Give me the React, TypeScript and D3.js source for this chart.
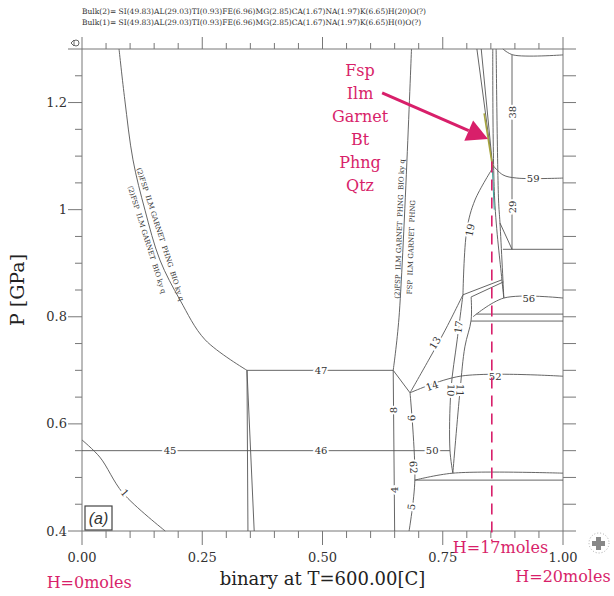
import React from 'react';
import * as d3 from 'd3';

const W = 614, H = 596;
const X_DOMAIN = [0, 1];
const P_DOMAIN = [0.4, 1.3];
const xTickValues = [0, 0.25, 0.5, 0.75, 1];
const xTickLabels = ["0.00", "0.25", "0.50", "0.75", "1.00"];
const yTickValues = [0.4, 0.6, 0.8, 1.0, 1.2];
const yTickLabels = ["0.4", "0.6", "0.8", "1", "1.2"];
const bulkTexts = [
  "Bulk(2)= SI(49.83)AL(29.03)TI(0.93)FE(6.96)MG(2.85)CA(1.67)NA(1.97)K(6.65)H(20)O(?)",
  "Bulk(1)= SI(49.83)AL(29.03)TI(0.93)FE(6.96)MG(2.85)CA(1.67)NA(1.97)K(6.65)H(0)O(?)",
];
const xTitle = "binary at T=600.00[C]";
const yTitle = "P [GPa]";

// phase boundaries [x, P]
const curveMain = [[0.077, 1.30], [0.089, 1.205], [0.106, 1.093], [0.131, 0.999], [0.162, 0.906], [0.204, 0.831], [0.256, 0.757], [0.343, 0.70]];
const boundary1 = [[0, 0.57], [0.037, 0.538], [0.085, 0.471], [0.173, 0.40]];
const wedgeLeft = [[0.343, 0.70], [0.345, 0.40]];
const wedgeRight = [[0.343, 0.70], [0.358, 0.40]];
const line45 = [[0, 0.55], [0.765, 0.55]];
const line47 = [[0.343, 0.70], [0.647, 0.70]];
const lineMid = [[0.685, 1.30], [0.659, 0.798], [0.647, 0.70]];
const line8 = [[0.647, 0.70], [0.650, 0.40]];
const lineV8V9 = [[0.647, 0.70], [0.682, 0.658]];
const line9 = [[0.682, 0.658], [0.692, 0.495], [0.680, 0.40]];
const line62h = [[0.692, 0.495], [1, 0.495]];
const line62b = [[0.692, 0.495], [0.771, 0.508], [1, 0.508]];
const line14 = [[0.682, 0.658], [0.786, 0.689], [1, 0.689]];
const line13 = [[0.682, 0.658], [0.723, 0.723], [0.755, 0.775], [0.792, 0.841]];
const line10 = [[0.792, 0.841], [0.780, 0.757], [0.767, 0.663], [0.765, 0.551], [0.771, 0.508]];
const line11 = [[0.809, 0.837], [0.809, 0.794], [0.796, 0.744], [0.786, 0.663], [0.771, 0.508]];
const line19 = [[0.792, 0.841], [0.800, 0.962], [0.817, 1.018], [0.854, 1.078]];
const lineUpPar = [[0.792, 0.841], [0.873, 0.869]];
const lineLowPar = [[0.809, 0.837], [0.876, 0.865]];
const lineC = [[0.854, 1.30], [0.858, 1.018], [0.873, 0.869], [0.877, 0.835]];
const lineD = [[0.861, 1.30], [0.866, 1.018], [0.869, 0.975], [0.877, 0.835]];
const line56 = [[0.813, 0.800], [0.877, 0.835], [1, 0.835]];
const lineH1 = [[0.82, 0.805], [1, 0.805]];
const lineH2 = [[0.809, 0.792], [1, 0.792]];
const lineBranch = [[0.869, 0.975], [0.894, 0.926]];
const line926 = [[0.875, 0.926], [1, 0.926]];
const line38 = [[0.894, 1.289], [0.894, 0.926]];
const lineTop = [[0.875, 1.30], [0.896, 1.289], [1, 1.289]];
const line59 = [[0.854, 1.083], [0.875, 1.065], [0.904, 1.059], [1, 1.059]];
const lineB = [[0.830, 1.30], [0.854, 1.078]];
const lineA = [[0.821, 1.30], [0.854, 1.078]];
const lineOlive = [[0.836, 1.18], [0.854, 1.078]];
const lineTeal = [[0.853, 1.08], [0.857, 1.0]];

const grayLines = [curveMain, boundary1, wedgeLeft, wedgeRight, line45, line47, lineMid, line8, lineV8V9, line9,
  line62h, line62b, line14, line13, line10, line11, line19, lineUpPar, lineLowPar, lineC, lineD, line56, lineH1, lineH2,
  lineBranch, line926, line38, lineTop, line59, lineB, lineA];

const lineLabels = [
  { t: "45", x: 0.183, p: 0.55, r: 0 },
  { t: "46", x: 0.497, p: 0.55, r: 0 },
  { t: "47", x: 0.497, p: 0.70, r: 0 },
  { t: "50", x: 0.728, p: 0.55, r: 0 },
  { t: "52", x: 0.859, p: 0.689, r: 0 },
  { t: "56", x: 0.929, p: 0.835, r: 0 },
  { t: "59", x: 0.938, p: 1.059, r: 0 },
  { t: "38", x: 0.894, p: 1.182, r: -90 },
  { t: "29", x: 0.894, p: 1.005, r: -90 },
  { t: "8", x: 0.648, p: 0.626, r: -90 },
  { t: "4", x: 0.649, p: 0.477, r: -90 },
  { t: "9", x: 0.685, p: 0.611, r: 87 },
  { t: "62", x: 0.689, p: 0.519, r: 87 },
  { t: "5", x: 0.685, p: 0.445, r: -82 },
  { t: "10", x: 0.767, p: 0.663, r: 92 },
  { t: "11", x: 0.786, p: 0.663, r: 92 },
  { t: "13", x: 0.734, p: 0.751, r: -58 },
  { t: "14", x: 0.728, p: 0.671, r: -19 },
  { t: "17", x: 0.783, p: 0.781, r: -82 },
  { t: "19", x: 0.807, p: 0.962, r: -78 },
  { t: "1", x: 0.089, p: 0.471, r: 49 },
];

const fieldLabels = [
  { t: "(2)FSP  ILM GARNET  PHNG  BIO ky q", x: 0.163, p: 0.954, r: 72 },
  { t: "(2)FSP  ILM GARNET  BIO ky q", x: 0.135, p: 0.944, r: 72.5 },
  { t: "(2)FSP  ILM GARNET  PHNG  BIO ky q", x: 0.660, p: 0.964, r: -88 },
  { t: "FSP  ILM GARNET  PHNG", x: 0.684, p: 0.930, r: -88 },
];

const assemblage = ["Fsp", "Ilm", "Garnet", "Bt", "Phng", "Qtz"];
const assemblageAnchor = { x: 0.578, p: 1.2495 };
const arrowFrom = { x: 0.624, p: 1.218 };
const arrowTo = { x: 0.844, p: 1.132 };
const dashedX = 0.852;
const dashedTopP = 1.09;
const hLabels = [
  { t: "H=0moles", x: 0.015, row: 2 },
  { t: "H=17moles", x: 0.87, row: 0 },
  { t: "H=20moles", x: 1.0, row: 1 },
];

const PINK = "#d81f6a";
const SERIF = "'DejaVu Serif', serif";

export default function App() {
  const x = d3.scaleLinear().domain(X_DOMAIN).range([82, 563]);
  const y = d3.scaleLinear().domain(P_DOMAIN).range([531, 49]);
  const line = d3.line<number[]>().x(d => x(d[0])).y(d => y(d[1])).curve(d3.curveCatmullRom.alpha(0.5));
  const xMinor = d3.range(0, 1.0001, 0.05);
  const yMinor = d3.range(0.4, 1.3001, 0.05);
  const isMajorX = (v: number) => Math.abs(v * 4 - Math.round(v * 4)) < 1e-6;
  const isMajorY = (v: number) => Math.abs(v * 5 - Math.round(v * 5)) < 1e-6 || Math.abs(v - 1.3) < 1e-6;

  const ax1 = x(arrowFrom.x), ay1 = y(arrowFrom.p), ax2 = x(arrowTo.x), ay2 = y(arrowTo.p);
  const ang = Math.atan2(ay2 - ay1, ax2 - ax1);
  const headL = 21, headW = 11;
  const bx = ax2 - headL * Math.cos(ang), by = ay2 - headL * Math.sin(ang);
  const head = [
    [ax2, ay2],
    [bx + headW * Math.sin(ang), by - headW * Math.cos(ang)],
    [bx - headW * Math.sin(ang), by + headW * Math.cos(ang)],
  ].map(p => p.join(",")).join(" ");

  const x0 = x(0), x1 = x(1), yb = y(0.4), yt = y(1.3);
  const hRowY = [553, 582, 588];

  return (
    <svg width={W} height={H} style={{ position: 'absolute', left: 0, top: 0, background: '#fff' }}>
      {bulkTexts.map((t, i) => (
        <text key={i} x={x0} y={14 + i * 11} fontSize={7.5} fontFamily={SERIF} fill="#333">{t}</text>
      ))}
      {/* frame */}
      <g stroke="#777" strokeWidth={1} fill="none">
        <line x1={x0} y1={yt} x2={x1} y2={yt} />
        <line x1={x0} y1={yb} x2={x1} y2={yb} />
        <line x1={x0} y1={yt} x2={x0} y2={yb} />
        <line x1={x1} y1={yt} x2={x1} y2={yb} />
        {xMinor.map((v, i) => (
          <g key={'xt' + i}>
            <line x1={x(v)} x2={x(v)} y1={yb} y2={yb + (isMajorX(v) ? 14 : 7)} />
            <line x1={x(v)} x2={x(v)} y1={yt} y2={yt - (isMajorX(v) ? 12 : 6)} />
          </g>
        ))}
        {yMinor.map((v, i) => (
          <g key={'yt' + i}>
            <line x1={x0} x2={x0 - (isMajorY(v) ? 14 : 7)} y1={y(v)} y2={y(v)} />
            <line x1={x1} x2={x1 + 13} y1={y(v)} y2={y(v)} />
          </g>
        ))}
      </g>
      {xTickValues.map((v, i) => (
        <text key={'xl' + i} x={x(v)} y={562} textAnchor="middle" fontSize={13} fontFamily={SERIF} fill="#333">{xTickLabels[i]}</text>
      ))}
      {yTickValues.map((v, i) => (
        <text key={'yl' + i} x={67} y={y(v)} dy="0.35em" textAnchor="end" fontSize={13} fontFamily={SERIF} fill="#333">{yTickLabels[i]}</text>
      ))}
      <text x={(x0 + x1) / 2} y={585} textAnchor="middle" fontSize={18} fontFamily={SERIF} fill="#222">{xTitle}</text>
      <text transform={`translate(24,${(yt + yb) / 2}) rotate(-90)`} textAnchor="middle" fontSize={19} fontFamily={SERIF} fill="#222">{yTitle}</text>

      {/* top-left icon */}
      <g stroke="#666" strokeWidth={1} fill="none">
        <circle cx={76} cy={43} r={3} />
        <path d={`M71,43 L74,40 L74,46 Z`} fill="#fff" />
      </g>
      {/* bottom-right logo */}
      <g>
        <circle cx={599} cy={543} r={10} fill="none" stroke="#aaa" strokeWidth={1} strokeDasharray="1,2" />
        <path d="M596,537 h5 v4 h4 v5 h-4 v4 h-5 v-4 h-4 v-5 h4 z" fill="#888" />
      </g>

      {/* boundaries */}
      <g fill="none" stroke="#555" strokeWidth={0.9}>
        {grayLines.map((l, i) => <path key={i} d={line(l as number[][]) || ''} />)}
      </g>
      <path d={line(lineOlive as number[][]) || ''} fill="none" stroke="#a7a43e" strokeWidth={1.6} />
      <path d={line(lineTeal as number[][]) || ''} fill="none" stroke="#3aa39a" strokeWidth={1} />

      {lineLabels.map((l, i) => (
        <text key={'ll' + i} transform={`translate(${x(l.x)},${y(l.p)}) rotate(${l.r})`} textAnchor="middle" dy="0.35em"
          fontSize={10} fontFamily={SERIF} fill="#333" stroke="#fff" strokeWidth={4} paintOrder="stroke">{l.t}</text>
      ))}
      {fieldLabels.map((l, i) => (
        <text key={'fl' + i} transform={`translate(${x(l.x)},${y(l.p)}) rotate(${l.r})`} textAnchor="middle" dy="0.35em"
          fontSize={7} fontFamily={SERIF} fill="#333" style={{ whiteSpace: 'pre' }}>{l.t}</text>
      ))}

      {/* (a) */}
      <rect x={85} y={506} width={27} height={24} fill="#fff" stroke="#444" strokeWidth={1.2} />
      <text x={98.5} y={524} textAnchor="middle" fontSize={16} fontStyle="italic" fontFamily="'Liberation Sans', Arial, sans-serif" fill="#333">(a)</text>

      {/* annotations */}
      <line x1={x(dashedX)} x2={x(dashedX)} y1={y(dashedTopP)} y2={yb + 10} stroke={PINK} strokeWidth={1.6} strokeDasharray="11,7" />
      <line x1={ax1} y1={ay1} x2={bx} y2={by} stroke={PINK} strokeWidth={3} />
      <polygon points={head} fill={PINK} />
      {assemblage.map((t, i) => (
        <text key={'as' + i} x={x(assemblageAnchor.x)} y={y(assemblageAnchor.p) + i * 23} textAnchor="middle" fontSize={16} fontFamily={SERIF} fill={PINK}>{t}</text>
      ))}
      {hLabels.map((h, i) => (
        <text key={'h' + i} x={x(h.x)} y={hRowY[h.row]} textAnchor="middle" fontSize={16} fontFamily={SERIF} fill={PINK}>{h.t}</text>
      ))}
    </svg>
  );
}
